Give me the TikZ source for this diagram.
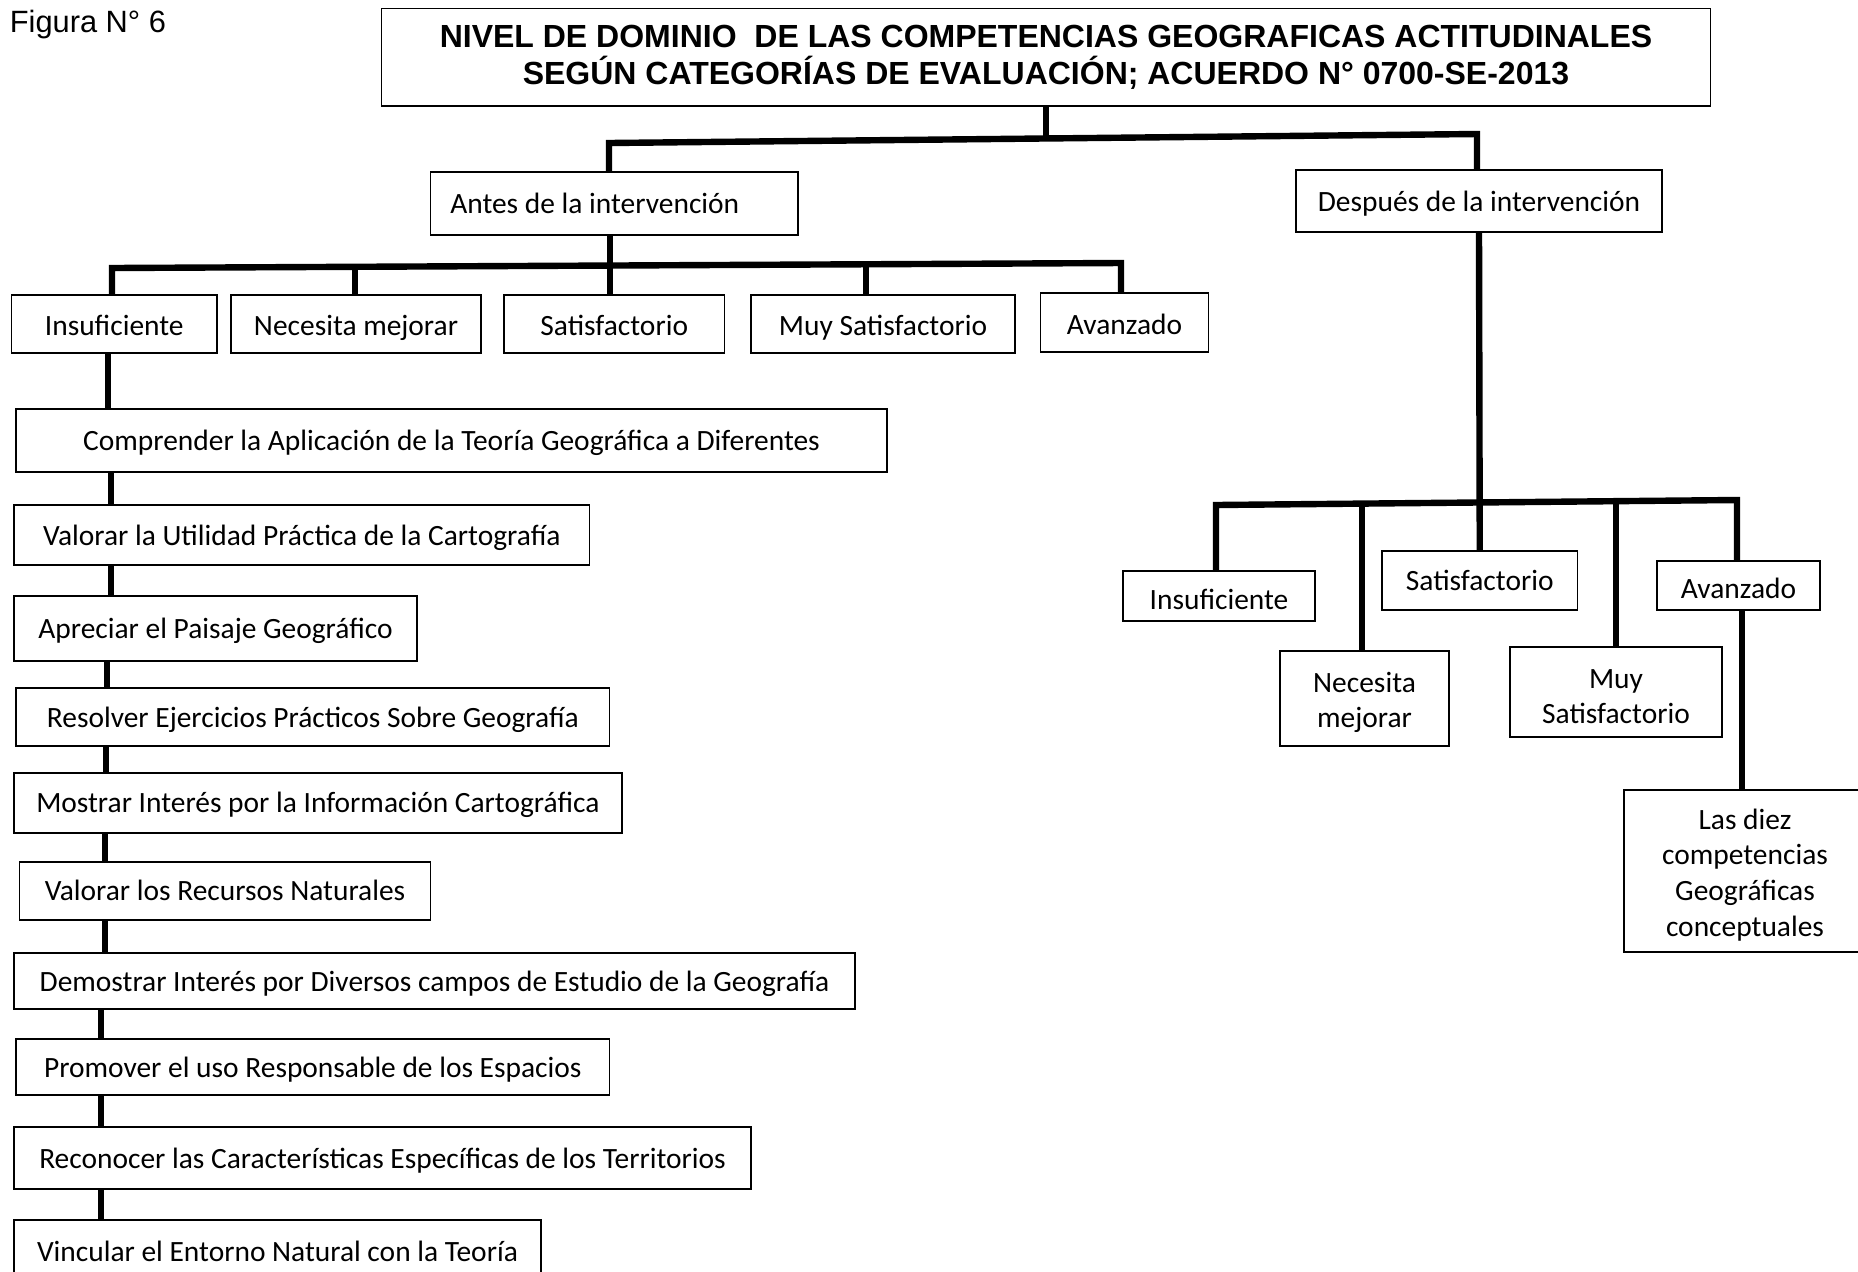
\documentclass[tikz,border=0pt]{standalone}
\usepackage{fontspec}
\setmainfont{Carlito}
\newfontfamily\arialfont{Liberation Sans}
\newcommand{\tallstrut}{\rule{0pt}{0.95em}}
\begin{document}
\begin{tikzpicture}[x=0.5pt,y=-0.5pt,
  boxbase/.style={draw, line width=0.8pt, inner sep=0pt, align=center,
    font=\fontsize{14.72pt}{17.8pt}\selectfont},
  box/.style={boxbase, text height=1.18em, text depth=0.18em},
  lowbox/.style={boxbase, text height=1.34em, text depth=0.18em},
  mbox/.style={boxbase},
  conn/.style={line width=3.2pt, line join=miter}]
\useasboundingbox (0,0) rectangle (1858,1271);
\clip (0,0) rectangle (1858,1271);

% caption and title
\node[anchor=base west, inner sep=0pt, font=\arialfont\fontsize{15.4pt}{18pt}\selectfont] (fig) at (9.5,32) {Figura N° 6};
\node[draw, line width=0.8pt, inner sep=0pt, align=center, minimum width=664.5pt, minimum height=48.9pt,
  font=\arialfont\bfseries\fontsize{16pt}{18.4pt}\selectfont] (title) at (1046,57.2)
  {NIVEL DE DOMINIO~ DE LAS COMPETENCIAS GEOGRAFICAS ACTITUDINALES\\SEGÚN CATEGORÍAS DE EVALUACIÓN; ACUERDO N° 0700-SE-2013};

% second level
\node[box, minimum width=183.8pt, minimum height=31.5pt, inner xsep=9.9pt] (antes) at (614.3,203.5) {\makebox[164pt][l]{Antes de la intervención}};
\node[box, minimum width=183pt, minimum height=31pt] (despues) at (1479,201) {Después de la intervención};

% left categories
\node[lowbox, minimum width=102.75pt, minimum height=29pt] (ins) at (114.25,324) {Insuficiente};
\node[lowbox, minimum width=125pt, minimum height=29pt] (nec) at (356,324) {Necesita mejorar};
\node[lowbox, minimum width=110.25pt, minimum height=29pt] (sat) at (614.25,324) {Satisfactorio};
\node[lowbox, minimum width=132pt, minimum height=29pt] (muy) at (883,324) {Muy Satisfactorio};
\node[lowbox, minimum width=84pt, minimum height=29.5pt] (ava) at (1124.5,322.5) {Avanzado};

% competence list
\node[box, minimum width=435.5pt, minimum height=31.5pt] (c1) at (451.5,440.5) {Comprender la Aplicación de la Teoría Geográfica a Diferentes};
\node[box, minimum width=287.75pt, minimum height=30pt] (c2) at (301.75,535) {Valorar la Utilidad Práctica de la Cartografía};
\node[box, minimum width=201.5pt, minimum height=32.5pt] (c3) at (215.5,628.2) {Apreciar el Paisaje Geográfico};
\node[box, minimum width=296.8pt, minimum height=29pt] (c4) at (312.8,717) {Resolver Ejercicios Prácticos Sobre Geografía};
\node[box, minimum width=303.85pt, minimum height=30.15pt] (c5) at (317.85,802.85) {Mostrar Interés por la Información Cartográfica};
\node[box, minimum width=205.5pt, minimum height=29.15pt] (c6) at (225,890.85) {Valorar los Recursos Naturales};
\node[box, minimum width=420.5pt, minimum height=28pt] (c7) at (434.5,981) {Demostrar Interés por Diversos campos de Estudio de la Geografía};
\node[box, minimum width=296.8pt, minimum height=28pt] (c8) at (312.8,1067) {Promover el uso Responsable de los Espacios};
\node[box, minimum width=368.5pt, minimum height=31pt] (c9) at (382.5,1158) {Reconocer las Características Específicas de los Territorios};
\node[box, minimum width=263.5pt, minimum height=31pt] (c10) at (277.5,1251) {Vincular el Entorno Natural con la Teoría};

% right categories
\node[lowbox, text height=1.5em, minimum width=96pt, minimum height=25pt] (rins) at (1219,596) {Insuficiente};
\node[mbox, minimum width=84.5pt, minimum height=47.5pt] (rnec) at (1364.5,698.5) {\tallstrut Necesita\\mejorar};
\node[box, minimum width=97.75pt, minimum height=29.5pt] (rsat) at (1479.75,580.5) {Satisfactorio};
\node[mbox, minimum width=106pt, minimum height=45pt] (rmuy) at (1616,692) {\tallstrut Muy\\Satisfactorio};
\node[lowbox, text height=1.5em, minimum width=81.5pt, minimum height=24.5pt] (rava) at (1738.5,585.5) {Avanzado};
\node[mbox, minimum width=121pt, minimum height=81pt] (diez) at (1745,871) {\tallstrut Las diez\\competencias\\Geográficas\\conceptuales};

% top bus
\coordinate (tbL) at (609,143);
\coordinate (tbR) at (1477,134);
\coordinate (tbM) at (1046,138.5);
\draw[conn] (title.south) -- (tbM);
\draw[conn] (antes.north -| tbL) -- (tbL) -- (tbR) -- (despues.north -| tbR);

% left bus
\coordinate (abL) at (112,268);
\coordinate (abR) at (1121,263);
\coordinate (ab2) at (355,266.8);
\coordinate (ab3) at (610,265.5);
\coordinate (ab4) at (866,264.3);
\draw[conn] (ins.north -| abL) -- (abL) -- (abR) -- (ava.north -| abR);
\draw[conn] (antes.south -| ab3) -- (sat.north -| ab3);
\draw[conn] (ab2) -- (nec.north -| ab2);
\draw[conn] (ab4) -- (muy.north -| ab4);

% list connectors
\coordinate (lx0) at (108,0);
\coordinate (lx1) at (111,0);
\coordinate (lx2) at (107,0);
\coordinate (lx3) at (106,0);
\coordinate (lx4) at (105,0);
\coordinate (lx5) at (101,0);
\draw[conn] (ins.south -| lx0) -- (c1.north -| lx0);
\draw[conn] (c1.south -| lx1) -- (c2.north -| lx1);
\draw[conn] (c2.south -| lx1) -- (c3.north -| lx1);
\draw[conn] (c3.south -| lx2) -- (c4.north -| lx2);
\draw[conn] (c4.south -| lx3) -- (c5.north -| lx3);
\draw[conn] (c5.south -| lx4) -- (c6.north -| lx4);
\draw[conn] (c6.south -| lx4) -- (c7.north -| lx4);
\draw[conn] (c7.south -| lx5) -- (c8.north -| lx5);
\draw[conn] (c8.south -| lx5) -- (c9.north -| lx5);
\draw[conn] (c9.south -| lx5) -- (c10.north -| lx5);

% right bus
\coordinate (rbL) at (1216,505);
\coordinate (rbR) at (1737,500);
\coordinate (rb2) at (1362,503.6);
\coordinate (rb4) at (1616,501.2);
\coordinate (rx) at (1742,0);
\draw[conn] (despues.south) -- (rsat.north);
\draw[conn] (rins.north -| rbL) -- (rbL) -- (rbR) -- (rava.north -| rbR);
\draw[conn] (rb2) -- (rnec.north -| rb2);
\draw[conn] (rb4) -- (rmuy.north -| rb4);
\draw[conn] (rava.south -| rx) -- (diez.north -| rx);
\end{tikzpicture}
\end{document}
